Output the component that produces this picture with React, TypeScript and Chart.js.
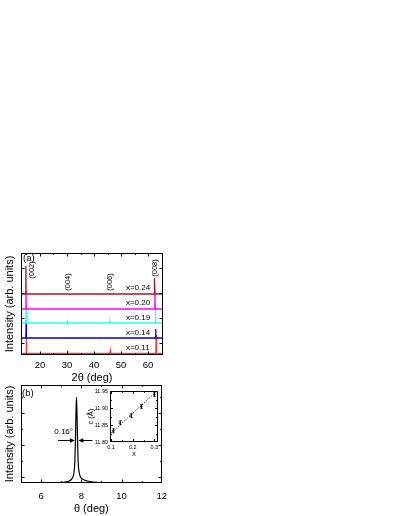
import React, { useEffect, useRef } from 'react';
import { Chart, registerables } from 'chart.js';
Chart.register(...registerables);

const FONT = "'Liberation Sans', Arial, Helvetica, sans-serif";

// ---------- panel (a): XRD patterns ----------
const xrdLabels = ['x=0.24', 'x=0.20', 'x=0.19', 'x=0.14', 'x=0.11'];
const xrdColors = ['#a8181e', '#ff00ff', '#22ffff', '#0000cc', '#ff3838'];

const tt024 = [13, 14.72, 14.8, 14.88, 62.22, 62.3, 62.38, 65.5];
const in024 = [61, 61, 89, 61, 61, 77, 61, 61];
const tt020 = [13, 14.76, 14.84, 14.92, 62.42, 62.5, 62.58, 65.5];
const in020 = [46, 46, 64, 46, 46, 68, 46, 46];
const tt019 = [13, 14.8, 14.88, 14.96, 29.95, 30.1, 30.25, 45.75, 45.9, 46.05, 62.62, 62.7, 62.78, 65.5];
const in019 = [32, 32, 50, 32, 32, 33.5, 32, 32, 33.5, 32, 32, 52, 32, 32];
const tt014 = [13, 14.82, 14.9, 14.98, 62.72, 62.8, 62.88, 65.5];
const in014 = [17, 17, 35, 17, 17, 26, 17, 17];
const tt011 = [13, 14.86, 14.94, 15.02, 30.05, 30.2, 30.35, 45.85, 46.0, 46.15, 62.85, 62.95, 63.05, 65.5];
const in011 = [1.5, 1.5, 20, 1.5, 1.5, 4.5, 1.5, 1.5, 4.5, 1.5, 1.5, 20, 1.5, 1.5];

const xrdTheta = [tt024, tt020, tt019, tt014, tt011];
const xrdInt = [in024, in020, in019, in014, in011];
const xrdLabelY = [67, 52, 37, 22, 7];

const peakNames = ['(002)', '(004)', '(006)', '(008)'];
const peakNamePos = [17.0, 30.5, 46, 62.6];
const peakNameY = [85, 73, 73, 87];

const xTicksA = [20, 30, 40, 50, 60];
const xMinorA = [15, 25, 35, 45, 55, 65];
const yTicksA = [12, 37, 62, 87];

// ---------- panel (b): theta scan ----------
const thetaB = [5.0, 6.9, 7.2, 7.4, 7.5, 7.58, 7.64, 7.68, 7.71, 7.735, 7.76, 7.785, 7.81, 7.84, 7.89, 7.96, 8.1, 8.3, 8.6, 9.2, 12.0];
const intensB = [0, 0.3, 1, 2, 3.5, 6, 11, 22, 45, 70, 86, 70, 45, 22, 11, 6, 3.5, 2, 1, 0.3, 0];
const xTicksB = [6, 8, 10, 12];
const xMinorB = [5, 7, 9, 11];
const yTicksB = [6, 38, 70];
const yMinorB = [22, 54, 86];

// ---------- inset: c vs x ----------
const insetX = [0.11, 0.14, 0.19, 0.24, 0.30];
const insetC = [11.833, 11.857, 11.878, 11.905, 11.94];
const insetErr = [0.006, 0.006, 0.006, 0.006, 0.006];
const fitX = [0.1, 0.3];
const fitC = [11.826, 11.944];
const xTicksC = [0.1, 0.2, 0.3];
const xMinorC = [0.15, 0.25];
const yTicksC = [11.8, 11.85, 11.9, 11.95];
const yMinorC = [11.825, 11.875, 11.925];

const framePlugin = {
  id: 'frame',
  afterDraw(chart: any, _a: any, o: any) {
    const { ctx, chartArea } = chart;
    const xs = chart.scales.x;
    const ys = chart.scales.y;
    const L = Math.round(chartArea.left) + 0.5;
    const R = Math.round(chartArea.right) - 0.5;
    const T = Math.round(chartArea.top) + 0.5;
    const B = Math.round(chartArea.bottom) - 0.5;
    ctx.save();
    ctx.strokeStyle = '#000';
    ctx.lineWidth = 1;
    ctx.strokeRect(L, T, R - L, B - T);
    ctx.beginPath();
    const xt = (vals: number[], len: number) => {
      (vals || []).forEach((v) => {
        const p = Math.round(xs.getPixelForValue(v)) + 0.5;
        if (p < L - 0.1 || p > R + 0.1) return;
        ctx.moveTo(p, B); ctx.lineTo(p, B - len);
        ctx.moveTo(p, T); ctx.lineTo(p, T + len);
      });
    };
    const yt = (vals: number[], len: number) => {
      (vals || []).forEach((v) => {
        const p = Math.round(ys.getPixelForValue(v)) + 0.5;
        if (p < T - 0.1 || p > B + 0.1) return;
        ctx.moveTo(L, p); ctx.lineTo(L + len, p);
        ctx.moveTo(R, p); ctx.lineTo(R - len, p);
      });
    };
    xt(o.xMajor, o.major); xt(o.xMinor, o.minor);
    yt(o.yMajor, o.major); yt(o.yMinor, o.minor);
    ctx.stroke();
    ctx.restore();
  },
};

const textAPlugin = {
  id: 'textA',
  afterDraw(chart: any) {
    const { ctx, chartArea } = chart;
    const { x, y } = chart.scales;
    ctx.save();
    ctx.fillStyle = '#000';
    ctx.textBaseline = 'middle';
    ctx.textAlign = 'center';
    ctx.font = `7.5px ${FONT}`;
    peakNames.forEach((t, i) => {
      ctx.save();
      ctx.translate(x.getPixelForValue(peakNamePos[i]), y.getPixelForValue(peakNameY[i]));
      ctx.rotate(-Math.PI / 2);
      ctx.fillText(t, 0, 0);
      ctx.restore();
    });
    ctx.textAlign = 'left';
    ctx.font = `8px ${FONT}`;
    xrdLabels.forEach((t, i) => {
      ctx.fillText(t, x.getPixelForValue(51.8), y.getPixelForValue(xrdLabelY[i]));
    });
    ctx.font = `9.5px ${FONT}`;
    ctx.fillText('(a)', chartArea.left + 2, chartArea.top + 5);
    ctx.restore();
  },
};

const textBPlugin = {
  id: 'textB',
  afterDraw(chart: any) {
    const { ctx, chartArea } = chart;
    const { x, y } = chart.scales;
    ctx.save();
    ctx.fillStyle = '#000';
    ctx.strokeStyle = '#000';
    ctx.textBaseline = 'middle';
    ctx.textAlign = 'left';
    ctx.font = `9.5px ${FONT}`;
    ctx.fillText('(b)', chartArea.left + 1, chartArea.top + 8);
    ctx.textAlign = 'center';
    ctx.font = `8px ${FONT}`;
    ctx.fillText('0.16°', x.getPixelForValue(7.12), y.getPixelForValue(51));
    const ay = Math.round(y.getPixelForValue(43)) + 0.5;
    const arrow = (from: number, to: number) => {
      const x0 = x.getPixelForValue(from);
      const x1 = x.getPixelForValue(to);
      const dir = Math.sign(x1 - x0);
      ctx.lineWidth = 1;
      ctx.beginPath();
      ctx.moveTo(x0, ay);
      ctx.lineTo(x1 - dir * 4, ay);
      ctx.stroke();
      ctx.beginPath();
      ctx.moveTo(x1, ay);
      ctx.lineTo(x1 - dir * 5, ay - 2.3);
      ctx.lineTo(x1 - dir * 5, ay + 2.3);
      ctx.closePath();
      ctx.fill();
    };
    arrow(6.85, 7.68);
    arrow(8.55, 7.85);
    ctx.restore();
  },
};

const errorBarPlugin = {
  id: 'errBars',
  afterDatasetsDraw(chart: any) {
    const { ctx } = chart;
    const { x, y } = chart.scales;
    ctx.save();
    ctx.strokeStyle = '#000';
    ctx.lineWidth = 0.8;
    ctx.beginPath();
    insetX.forEach((v, i) => {
      const px = Math.round(x.getPixelForValue(v)) + 0.5;
      const y0 = y.getPixelForValue(insetC[i] - insetErr[i]);
      const y1 = y.getPixelForValue(insetC[i] + insetErr[i]);
      ctx.moveTo(px, y0); ctx.lineTo(px, y1);
      ctx.moveTo(px - 1.2, y0); ctx.lineTo(px + 1.2, y0);
      ctx.moveTo(px - 1.2, y1); ctx.lineTo(px + 1.2, y1);
    });
    ctx.stroke();
    ctx.restore();
  },
};

const axisBase = {
  grid: { display: false, drawTicks: false },
  border: { display: false },
};

function cfgA(): any {
  return {
    type: 'line',
    data: {
      datasets: xrdLabels.map((lab, i) => ({
        label: lab,
        data: xrdTheta[i].map((t, j) => ({ x: t, y: xrdInt[i][j] })),
        borderColor: xrdColors[i],
        borderWidth: 1.3,
        pointRadius: 0,
        tension: 0,
        fill: false,
      })),
    },
    options: {
      responsive: false,
      animation: false,
      events: [],
      layout: { padding: { top: 10, right: 12, left: 0, bottom: 0 } },
      plugins: {
        legend: { display: false },
        tooltip: { enabled: false },
        frame: { xMajor: xTicksA, xMinor: xMinorA, yMajor: yTicksA, yMinor: [], major: 3, minor: 1.5 },
      },
      scales: {
        x: {
          ...axisBase,
          type: 'linear',
          min: 13,
          max: 65.5,
          afterBuildTicks: (s: any) => { s.ticks = xTicksA.map((v) => ({ value: v })); },
          afterFit: (s: any) => { s.height = 30; },
          ticks: { font: { family: FONT, size: 9.5 }, color: '#000', padding: 5, maxRotation: 0, autoSkip: false },
          title: { display: true, text: '2θ (deg)', font: { family: FONT, size: 11 }, color: '#000', padding: 0 },
        },
        y: {
          ...axisBase,
          type: 'linear',
          min: 0,
          max: 102,
          ticks: { display: false },
          afterFit: (s: any) => { s.width = 21; },
          title: { display: true, text: 'Intensity (arb. units)', font: { family: FONT, size: 11 }, color: '#000', padding: { top: 3, bottom: 0 } },
        },
      },
    },
    plugins: [framePlugin, textAPlugin],
  };
}

function cfgB(): any {
  return {
    type: 'line',
    data: {
      datasets: [{
        label: 'theta scan',
        data: thetaB.map((t, j) => ({ x: t, y: intensB[j] })),
        borderColor: '#000',
        borderWidth: 1.2,
        pointRadius: 0,
        cubicInterpolationMode: 'monotone',
        fill: false,
      }],
    },
    options: {
      responsive: false,
      animation: false,
      events: [],
      layout: { padding: { top: 6, right: 12, left: 0, bottom: 0 } },
      plugins: {
        legend: { display: false },
        tooltip: { enabled: false },
        frame: { xMajor: xTicksB, xMinor: xMinorB, yMajor: yTicksB, yMinor: yMinorB, major: 3, minor: 1.5 },
      },
      scales: {
        x: {
          ...axisBase,
          type: 'linear',
          min: 5,
          max: 12,
          afterBuildTicks: (s: any) => { s.ticks = xTicksB.map((v) => ({ value: v })); },
          afterFit: (s: any) => { s.height = 33; },
          ticks: { font: { family: FONT, size: 9.5 }, color: '#000', padding: 8, maxRotation: 0, autoSkip: false },
          title: { display: true, text: 'θ (deg)', font: { family: FONT, size: 11 }, color: '#000', padding: 0 },
        },
        y: {
          ...axisBase,
          type: 'linear',
          min: 0,
          max: 98,
          ticks: { display: false },
          afterFit: (s: any) => { s.width = 21; },
          title: { display: true, text: 'Intensity (arb. units)', font: { family: FONT, size: 11 }, color: '#000', padding: { top: 3, bottom: 0 } },
        },
      },
    },
    plugins: [framePlugin, textBPlugin],
  };
}

function cfgC(): any {
  return {
    type: 'line',
    data: {
      datasets: [
        {
          label: 'c',
          data: insetX.map((v, j) => ({ x: v, y: insetC[j] })),
          showLine: false,
          pointStyle: 'rect',
          pointRadius: 1.1,
          pointBorderWidth: 0.6,
          pointBorderColor: '#000',
          pointBackgroundColor: '#fff',
        },
        {
          label: 'fit',
          data: fitX.map((v, j) => ({ x: v, y: fitC[j] })),
          borderColor: '#000',
          borderWidth: 0.8,
          borderDash: [1.5, 1.5],
          pointRadius: 0,
          fill: false,
        },
      ],
    },
    options: {
      responsive: false,
      animation: false,
      events: [],
      layout: { padding: { top: 5, right: 6, left: 0, bottom: 0 } },
      plugins: {
        legend: { display: false },
        tooltip: { enabled: false },
        frame: { xMajor: xTicksC, xMinor: xMinorC, yMajor: yTicksC, yMinor: yMinorC, major: 2.5, minor: 1.3 },
      },
      scales: {
        x: {
          ...axisBase,
          type: 'linear',
          min: 0.095,
          max: 0.317,
          afterBuildTicks: (s: any) => { s.ticks = xTicksC.map((v) => ({ value: v })); },
          afterFit: (s: any) => { s.height = 16; },
          ticks: { font: { family: FONT, size: 5.5 }, color: '#000', padding: 2, maxRotation: 0, autoSkip: false, callback: (v: any) => Number(v).toFixed(1) },
          title: { display: true, text: 'x', font: { family: FONT, size: 7 }, color: '#000', padding: 0 },
        },
        y: {
          ...axisBase,
          type: 'linear',
          min: 11.8,
          max: 11.95,
          afterBuildTicks: (s: any) => { s.ticks = yTicksC.map((v) => ({ value: v })); },
          afterFit: (s: any) => { s.width = 26; },
          ticks: { font: { family: FONT, size: 5.5 }, color: '#000', padding: 2, autoSkip: false, callback: (v: any) => Number(v).toFixed(2) },
          title: { display: true, text: 'c (Å)', font: { family: FONT, size: 7.5 }, color: '#000', padding: { top: 2.5, bottom: 0 } },
        },
      },
    },
    plugins: [framePlugin, errorBarPlugin],
  };
}

export default function App() {
  const refA = useRef<HTMLCanvasElement>(null);
  const refB = useRef<HTMLCanvasElement>(null);
  const refC = useRef<HTMLCanvasElement>(null);

  useEffect(() => {
    const charts = [
      new Chart(refA.current!, cfgA()),
      new Chart(refB.current!, cfgB()),
      new Chart(refC.current!, cfgC()),
    ];
    return () => charts.forEach((c) => c.destroy());
  }, []);

  const abs = (l: number, t: number, w: number, h: number): React.CSSProperties => ({
    position: 'absolute', left: l, top: t, width: w, height: h, display: 'block',
  });

  return (
    <div style={{ position: 'absolute', left: 0, top: 0, width: 399, height: 516, background: '#fff', overflow: 'hidden' }}>
      <canvas ref={refA} width={175} height={142} style={abs(0, 243, 175, 142)} />
      <canvas ref={refB} width={175} height={137} style={abs(0, 379, 175, 137)} />
      <canvas ref={refC} width={80} height={72} style={abs(84, 386, 80, 72)} />
    </div>
  );
}
